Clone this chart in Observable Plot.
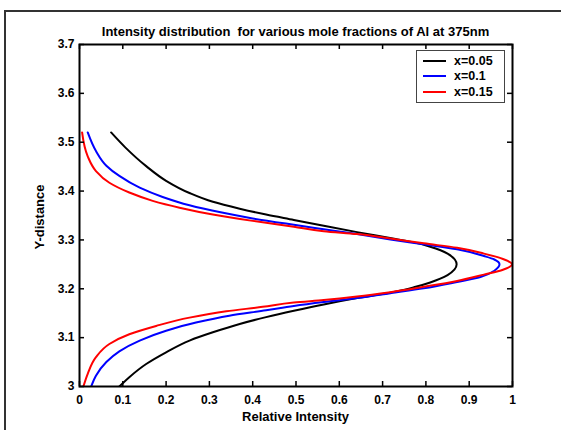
<!DOCTYPE html>
<html><head><meta charset="utf-8">
<script src="https://cdn.jsdelivr.net/npm/d3@7"></script>
<script src="https://cdn.jsdelivr.net/npm/@observablehq/plot@0.6"></script>
<style>
body{margin:0;background:#fff;}
#wrap{position:relative;width:561px;height:430px;overflow:hidden;font-family:"Liberation Sans",Arial,sans-serif;font-weight:bold;color:#000;}
#fig{position:absolute;left:4px;top:10px;width:700px;height:600px;border-top:2px solid #333;border-left:2px solid #333;box-sizing:border-box;}
#chart{position:absolute;left:0;top:0;}
.lbl{position:absolute;white-space:nowrap;line-height:14px;}
#title{left:0;width:591px;top:25px;text-align:center;font-size:13px;}
#xlab{left:0;width:591px;top:410px;text-align:center;font-size:13px;}
#ylab{left:40px;top:217px;font-size:13px;transform:translate(-50%,-50%) rotate(-90deg);}
#legend{position:absolute;left:416px;top:50px;width:89px;height:53px;border:1px solid #444;background:#fff;box-sizing:border-box;}
.entry{position:absolute;left:6px;height:14px;font-size:12.5px;line-height:14px;}
.entry i{position:absolute;left:0;top:6px;width:23px;height:2px;}
.entry span{position:absolute;left:31px;top:0;}
</style>
</head><body>
<div id="wrap">
  <div id="fig"></div>
  <div id="chart"></div>
  <div class="lbl" id="title"></div>
  <div class="lbl" id="xlab"></div>
  <div class="lbl" id="ylab"></div>
  <div id="legend"></div>
</div>
<script>
const titleText = "Intensity distribution\u00a0 for various mole fractions of Al at 375nm";
const xLabel = "Relative Intensity";
const yLabel = "Y-distance";
const seriesNames = ["x=0.05", "x=0.1", "x=0.15"];
const seriesColors = ["#000000", "#0000ff", "#ff0000"];
const xTicks = [0, 0.1, 0.2, 0.3, 0.4, 0.5, 0.6, 0.7, 0.8, 0.9, 1];
const yTicks = [3, 3.1, 3.2, 3.3, 3.4, 3.5, 3.6, 3.7];

// x = 0.05
const blackY = [3.000,3.019,3.046,3.070,3.094,3.111,3.128,3.142,3.155,3.168,3.181,3.195,3.203,3.213,3.228,3.250,3.272,3.286,3.295,3.302,3.316,3.329,3.341,3.352,3.364,3.378,3.396,3.421,3.451,3.490,3.520];
const blackI = [0.092,0.115,0.154,0.200,0.254,0.308,0.370,0.431,0.495,0.564,0.641,0.735,0.772,0.810,0.850,0.871,0.850,0.810,0.772,0.730,0.641,0.564,0.495,0.431,0.370,0.308,0.254,0.200,0.154,0.105,0.073];
// x = 0.1
const blueY = [3.000,3.022,3.050,3.072,3.094,3.114,3.131,3.145,3.156,3.165,3.173,3.181,3.191,3.201,3.214,3.224,3.237,3.250,3.260,3.267,3.281,3.291,3.301,3.312,3.322,3.331,3.344,3.357,3.371,3.388,3.407,3.431,3.452,3.482,3.520];
const blueI = [0.027,0.038,0.062,0.092,0.139,0.200,0.269,0.346,0.431,0.495,0.564,0.641,0.718,0.795,0.872,0.926,0.958,0.970,0.958,0.934,0.872,0.795,0.718,0.641,0.564,0.495,0.400,0.323,0.254,0.192,0.139,0.092,0.062,0.038,0.019];
// x = 0.15
const redY = [3.000,3.026,3.060,3.087,3.107,3.124,3.141,3.154,3.163,3.172,3.177,3.184,3.193,3.204,3.216,3.229,3.239,3.250,3.261,3.272,3.284,3.293,3.303,3.312,3.318,3.327,3.339,3.352,3.366,3.380,3.397,3.417,3.441,3.471,3.520];
const redI = [0.009,0.019,0.038,0.069,0.115,0.177,0.254,0.339,0.423,0.495,0.564,0.641,0.718,0.795,0.872,0.934,0.978,0.999,0.978,0.934,0.872,0.795,0.718,0.641,0.564,0.495,0.400,0.308,0.231,0.169,0.115,0.069,0.038,0.019,0.006];

const series = [[blackI, blackY], [blueI, blueY], [redI, redY]].map(([I, Y], k) =>
  I.map((v, j) => ({i: v, y: Y[j], s: seriesNames[k]})));

const W = 561, H = 430, mL = 79, mR = 49, mT = 44, mB = 44;
const pw = W - mL - mR, ph = H - mT - mB, tl = 5;
const fmt = d => String(+(+d).toFixed(1));

const chart = Plot.plot({
  width: W, height: H,
  marginLeft: mL, marginRight: mR, marginTop: mT, marginBottom: mB,
  style: {background: "transparent", fontFamily: '"Liberation Sans", Arial, sans-serif', fontSize: "12px", fontWeight: "bold", color: "#000"},
  x: {domain: [0, 1]},
  y: {domain: [3, 3.7]},
  marks: [
    ...series.map((d, k) => Plot.line(d, {x: "i", y: "y", stroke: seriesColors[k], strokeWidth: 2, curve: "monotone-y", clip: true})),
    Plot.tickX(xTicks, {x: d => d, insetTop: ph - tl, stroke: "#000", strokeWidth: 1.5}),
    Plot.tickX(xTicks, {x: d => d, insetBottom: ph - tl, stroke: "#000", strokeWidth: 1.5}),
    Plot.tickY(yTicks, {y: d => d, insetRight: pw - tl, stroke: "#000", strokeWidth: 1.5}),
    Plot.tickY(yTicks, {y: d => d, insetLeft: pw - tl, stroke: "#000", strokeWidth: 1.5}),
    Plot.frame({stroke: "#000", strokeWidth: 2}),
    Plot.axisX(xTicks, {tickSize: 0, tickPadding: 9, tickFormat: fmt, label: null, fill: "#000"}),
    Plot.axisY(yTicks, {tickSize: 0, tickPadding: 5, tickFormat: fmt, label: null, fill: "#000"})
  ]
});
document.getElementById("chart").appendChild(chart);
document.getElementById("title").textContent = titleText;
document.getElementById("xlab").textContent = xLabel;
document.getElementById("ylab").textContent = yLabel;
const lg = document.getElementById("legend");
const rowTops = [3, 18, 34];
seriesNames.forEach((n, k) => {
  const e = document.createElement("div");
  e.className = "entry";
  e.style.top = rowTops[k] + "px";
  const ln = document.createElement("i");
  ln.style.background = seriesColors[k];
  const t = document.createElement("span");
  t.textContent = n;
  e.appendChild(ln); e.appendChild(t);
  lg.appendChild(e);
});
</script>
</body></html>
